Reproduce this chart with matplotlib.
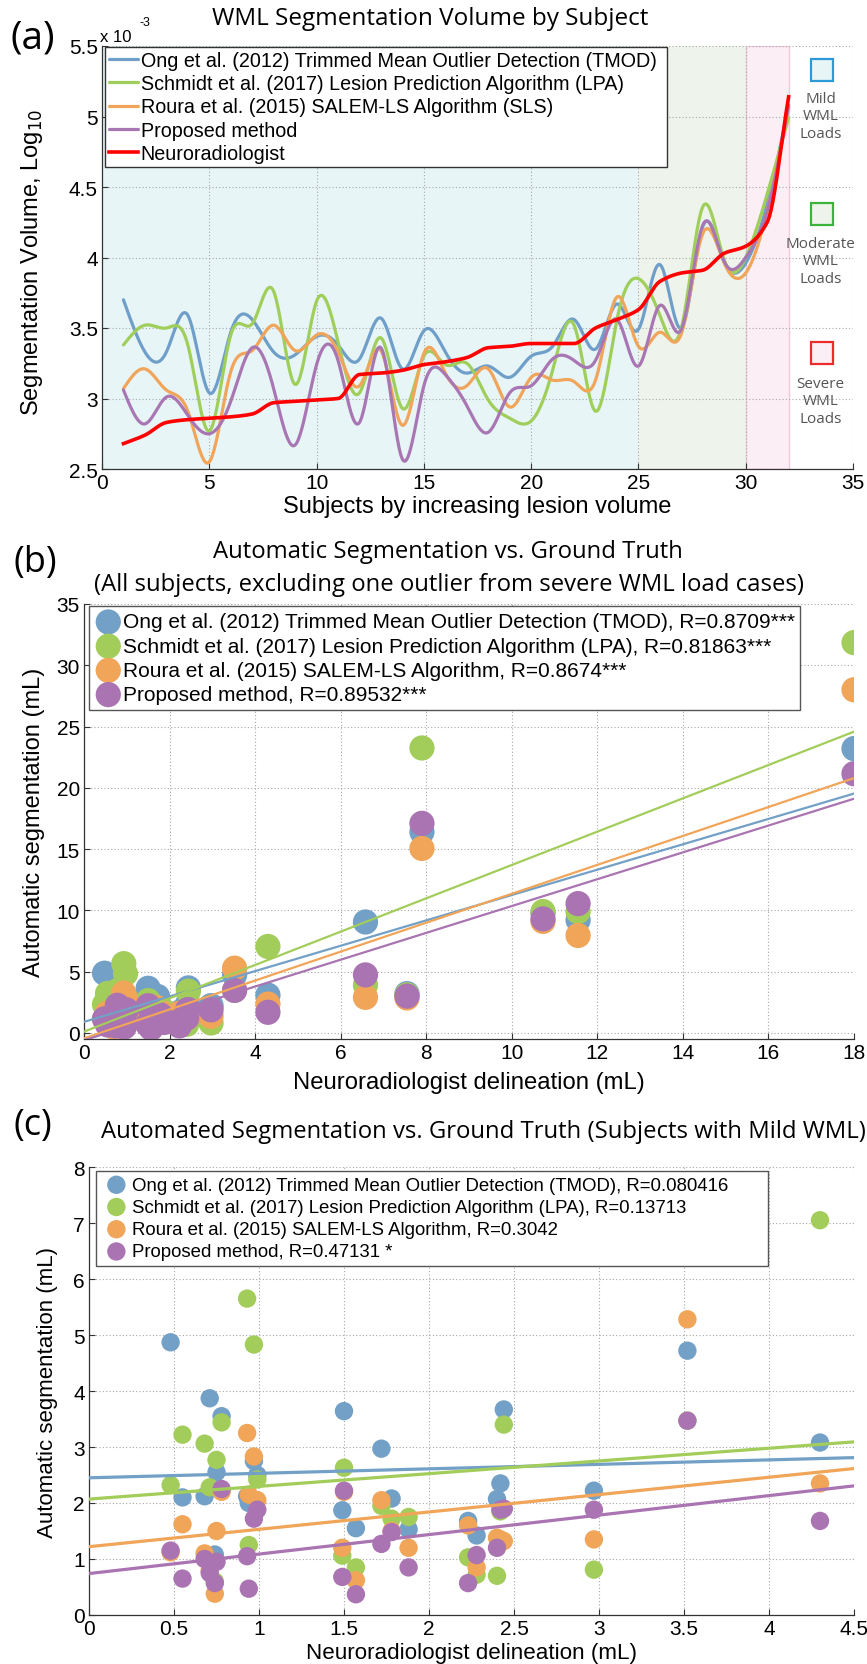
import numpy as np
import matplotlib
matplotlib.use("Agg")
import matplotlib.pyplot as plt
import matplotlib.font_manager as fm
from matplotlib.patches import Rectangle
from matplotlib.ticker import FuncFormatter, MultipleLocator

# ---------------- data ----------------
subjects = list(range(1, 33))
vol_tmod = [3.70, 3.33, 3.33, 3.59, 3.04, 3.47, 3.56, 3.33, 3.31, 3.44, 3.38, 3.28, 3.57, 3.21, 3.48, 3.33,
            3.18, 3.23, 3.15, 3.30, 3.37, 3.56, 3.35, 3.67, 3.49, 3.95, 3.50, 4.22, 3.97, 3.96, 4.38, 5.08]
vol_lpa = [3.38, 3.52, 3.50, 3.38, 2.77, 3.45, 3.53, 3.76, 3.10, 3.69, 3.40, 3.04, 3.43, 2.93, 3.30, 3.24,
           3.25, 2.99, 2.86, 2.84, 3.20, 3.52, 2.91, 3.56, 3.85, 3.59, 3.50, 4.36, 3.98, 4.00, 4.45, 4.99]
vol_sls = [3.07, 3.21, 3.06, 2.91, 2.55, 3.19, 3.34, 3.52, 3.34, 3.45, 3.33, 3.09, 3.34, 2.81, 3.32, 3.18,
           3.09, 3.21, 2.94, 3.15, 3.13, 3.12, 3.13, 3.72, 3.37, 3.47, 3.46, 4.17, 3.96, 3.89, 4.33, 5.06]
vol_prop = [3.06, 2.82, 3.01, 2.88, 2.75, 2.98, 3.36, 3.07, 2.67, 3.24, 3.27, 2.83, 3.36, 2.57, 3.09, 3.17,
            2.95, 2.76, 3.04, 3.09, 3.28, 3.27, 3.27, 3.56, 3.23, 3.66, 3.49, 4.23, 3.97, 4.00, 4.33, 5.08]
vol_neuro = [2.68, 2.74, 2.83, 2.85, 2.86, 2.87, 2.89, 2.97, 2.98, 2.99, 3.00, 3.17, 3.18, 3.20, 3.24, 3.26,
             3.29, 3.36, 3.37, 3.39, 3.39, 3.39, 3.50, 3.56, 3.63, 3.83, 3.89, 3.91, 4.03, 4.08, 4.25, 5.14]
series_a_labels = ["Ong et al. (2012) Trimmed Mean Outlier Detection (TMOD)",
                   "Schmidt et al. (2017) Lesion Prediction Algorithm (LPA)",
                   "Roura et al. (2015) SALEM-LS Algorithm (SLS)",
                   "Proposed method",
                   "Neuroradiologist"]

# mild subjects (mL)
mild_gt = [0.48, 0.55, 0.68, 0.71, 0.74, 0.75, 0.78, 0.93, 0.94, 0.97, 0.99, 1.49, 1.50, 1.57, 1.72, 1.78,
           1.88, 2.23, 2.28, 2.40, 2.42, 2.44, 2.97, 3.52, 4.30]
mild_tmod = [4.87, 2.10, 2.12, 3.87, 1.08, 2.55, 3.55, 2.12, 2.00, 2.75, 2.50, 1.87, 3.64, 1.55, 2.97, 2.08,
             1.53, 1.68, 1.42, 2.07, 2.35, 3.67, 2.22, 4.72, 3.08]
mild_lpa = [2.32, 3.22, 3.06, 2.28, 0.60, 2.77, 3.44, 5.65, 1.25, 4.83, 2.42, 1.06, 2.63, 0.85, 1.95, 1.72,
            1.75, 1.03, 0.72, 0.70, 1.85, 3.40, 0.81, 3.47, 7.05]
mild_sls = [1.12, 1.62, 1.10, 0.80, 0.38, 1.50, 2.20, 3.25, 2.15, 2.83, 2.05, 1.20, 2.20, 0.62, 2.05, 1.50,
            1.20, 1.60, 0.85, 1.38, 1.35, 1.32, 1.35, 5.28, 2.35]
mild_prop = [1.15, 0.65, 1.00, 0.75, 0.57, 0.95, 2.25, 1.05, 0.47, 1.72, 1.88, 0.68, 2.22, 0.37, 1.27, 1.48,
             0.85, 0.57, 1.07, 1.20, 1.88, 1.90, 1.88, 3.47, 1.68]

# remaining (moderate / severe) subjects shown in panel (b)
other_gt = [6.58, 7.55, 7.90, 10.73, 11.55, 18.0]
other_tmod = [9.05, 3.20, 16.4, 9.80, 9.20, 23.2]
other_lpa = [3.90, 3.10, 23.25, 9.90, 9.90, 31.85]
other_sls = [2.90, 2.85, 15.05, 9.10, 7.95, 28.0]
other_prop = [4.73, 3.00, 17.1, 9.30, 10.55, 21.15]

# regression lines (intercept, slope)
fit_b_intercept = [0.90, 0.10, -0.45, -0.60]
fit_b_slope = [1.035, 1.360, 1.180, 1.095]
fit_c_intercept = [2.45, 2.07, 1.22, 0.74]
fit_c_slope = [0.080, 0.227, 0.310, 0.348]

labels_b = ["Ong et al. (2012) Trimmed Mean Outlier Detection (TMOD), R=0.8709***",
            "Schmidt et al. (2017) Lesion Prediction Algorithm (LPA), R=0.81863***",
            "Roura et al. (2015) SALEM-LS Algorithm, R=0.8674***",
            "Proposed method, R=0.89532***"]
labels_c = ["Ong et al. (2012) Trimmed Mean Outlier Detection (TMOD), R=0.080416",
            "Schmidt et al. (2017) Lesion Prediction Algorithm (LPA), R=0.13713",
            "Roura et al. (2015) SALEM-LS Algorithm, R=0.3042",
            "Proposed method, R=0.47131 *"]

# ---------------- styling ----------------
avail = {f.name for f in fm.fontManager.ttflist}
NARROW = 'Liberation Sans Narrow' if 'Liberation Sans Narrow' in avail else 'Liberation Sans'
REG = 'Liberation Sans' if 'Liberation Sans' in avail else 'DejaVu Sans'
TITLE = 'Open Sans' if 'Open Sans' in avail else 'DejaVu Sans'
plt.rcParams['font.family'] = [NARROW, 'DejaVu Sans']

C_LINE = ['#6f9fc9', '#9fcf5a', '#f1a55a', '#a877b3', '#ff0000']
C_DOT = ['#72a0c6', '#a3cd5a', '#f0a558', '#aa74b2']

W, H = 867, 1665
fig = plt.figure(figsize=(W / 100, H / 100), dpi=100)


def ax_rect(left, top, right, bottom):
    return [left / W, 1 - bottom / H, (right - left) / W, (bottom - top) / H]


def style_axes(ax, tsize):
    ax.set_axisbelow(True)
    ax.grid(True, linestyle=(0, (1, 2)), color='#a8a8a8', linewidth=0.8)
    for s in ['top', 'right']:
        ax.spines[s].set_visible(False)
    for s in ['left', 'bottom']:
        ax.spines[s].set_color('#333333')
        ax.spines[s].set_linewidth(0.9)
    ax.tick_params(direction='in', length=4, width=0.8, color='#333333', labelsize=tsize, pad=3)
    ax.xaxis.set_major_formatter(FuncFormatter(lambda v, p: '%g' % v))
    ax.yaxis.set_major_formatter(FuncFormatter(lambda v, p: '%g' % v))


def natural_spline(x, y, xs):
    x = np.asarray(x, float); y = np.asarray(y, float)
    n = len(x); h = np.diff(x)
    A = np.zeros((n, n)); b = np.zeros(n)
    A[0, 0] = 1; A[-1, -1] = 1
    for i in range(1, n - 1):
        A[i, i - 1] = h[i - 1]; A[i, i] = 2 * (h[i - 1] + h[i]); A[i, i + 1] = h[i]
        b[i] = 3 * ((y[i + 1] - y[i]) / h[i] - (y[i] - y[i - 1]) / h[i - 1])
    c = np.linalg.solve(A, b)
    bb = (y[1:] - y[:-1]) / h - h * (2 * c[:-1] + c[1:]) / 3
    d = (c[1:] - c[:-1]) / (3 * h)
    idx = np.clip(np.searchsorted(x, xs) - 1, 0, n - 2)
    t = xs - x[idx]
    return y[idx] + bb[idx] * t + c[idx] * t ** 2 + d[idx] * t ** 3


def pchip(x, y, xs):
    x = np.asarray(x, float); y = np.asarray(y, float)
    h = np.diff(x); delta = np.diff(y) / h
    n = len(x); m = np.zeros(n)
    for k in range(1, n - 1):
        if delta[k - 1] * delta[k] > 0:
            w1 = 2 * h[k] + h[k - 1]; w2 = h[k] + 2 * h[k - 1]
            m[k] = (w1 + w2) / (w1 / delta[k - 1] + w2 / delta[k])
    m[0] = delta[0]; m[-1] = delta[-1]
    idx = np.clip(np.searchsorted(x, xs) - 1, 0, n - 2)
    t = (xs - x[idx]) / h[idx]
    h00 = 2 * t ** 3 - 3 * t ** 2 + 1; h10 = t ** 3 - 2 * t ** 2 + t
    h01 = -2 * t ** 3 + 3 * t ** 2; h11 = t ** 3 - t ** 2
    return h00 * y[idx] + h10 * h[idx] * m[idx] + h01 * y[idx + 1] + h11 * h[idx] * m[idx + 1]


# ---------------- panel (a) ----------------
axA = fig.add_axes(ax_rect(102, 47, 853, 470))
axA.set_xlim(0, 35)
axA.set_ylim(2.5, 5.5)
axA.xaxis.set_major_locator(MultipleLocator(5))
axA.yaxis.set_major_locator(MultipleLocator(0.5))
style_axes(axA, 15)
axA.axvspan(0, 25, color='#e7f5f7', zorder=0, lw=0)
axA.axvspan(25, 30, color='#eef4eb', zorder=0, lw=0)
axA.axvspan(30, 32, facecolor='#fbeef5', edgecolor='#f2c9dc', zorder=0, lw=1)

xs = np.linspace(subjects[0], subjects[-1], 800)
handles = []
for vals, col in zip([vol_tmod, vol_lpa, vol_sls, vol_prop], C_LINE[:4]):
    ln, = axA.plot(xs, natural_spline(subjects, vals, xs), color=col, lw=2.3, solid_capstyle='round')
    handles.append(ln)
ln, = axA.plot(xs, pchip(subjects, vol_neuro, xs), color=C_LINE[4], lw=2.6)
handles.append(ln)
legA = axA.legend(handles, series_a_labels, loc='upper left',
                  bbox_to_anchor=(0.004, 0.998 - 0.3, 0.748, 0.3), mode='expand',
                  borderaxespad=0, fontsize=14.2, handlelength=1.45, handletextpad=0.15,
                  labelspacing=0.22, borderpad=0.2, fancybox=False, framealpha=1,
                  edgecolor='#333333')
legA.get_frame().set_linewidth(1.0)

axA.set_xlabel('Subjects by increasing lesion volume', fontsize=17, labelpad=2)
axA.set_ylabel('Segmentation Volume, Log$_{10}$', fontsize=17, family=REG)
axA.yaxis.set_label_coords(-0.076, 0.49)

# load-category keys
for yc, ty, ec, fc, txt in [(0.943, 0.835, '#2b9ad6', '#e7f5f7', 'Mild\nWML\nLoads'),
                            (0.603, 0.492, '#3cb43c', '#eef4eb', 'Moderate\nWML\nLoads'),
                            (0.274, 0.161, '#ee2b2b', '#fbeef5', 'Severe\nWML\nLoads')]:
    axA.add_patch(Rectangle((0.9587 - 0.0146, yc - 0.026), 0.0293, 0.052, transform=axA.transAxes,
                            facecolor=fc, edgecolor=ec, lw=1.6, clip_on=False, zorder=5))
    axA.text(0.957, ty, txt, transform=axA.transAxes, ha='center', va='center', fontsize=11,
             color='#555555', family=TITLE, linespacing=1.25, zorder=5)

fig.text(10 / W, 1 - 38 / H, '(a)', fontsize=28, family=TITLE, va='center', ha='left')
fig.text(430 / W, 1 - 19 / H, 'WML Segmentation Volume by Subject', fontsize=17.5, family=TITLE,
         ha='center', va='center')
fig.text(100 / W, 1 - 37 / H, 'x 10', fontsize=12, va='center', ha='left')
fig.text(139 / W, 1 - 23 / H, '-3', fontsize=9, va='center', ha='left')

# ---------------- panel (b) ----------------
axB = fig.add_axes(ax_rect(84, 605, 854, 1040))
axB.set_xlim(0, 18)
axB.set_ylim(-0.5, 35)
axB.xaxis.set_major_locator(MultipleLocator(2))
axB.yaxis.set_major_locator(MultipleLocator(5))
style_axes(axB, 15)
gt_b = np.array(mild_gt + other_gt)
sets_b = [mild_tmod + other_tmod, mild_lpa + other_lpa, mild_sls + other_sls, mild_prop + other_prop]
xl = np.array([0, 18])
for i in range(4):
    axB.scatter(gt_b, sets_b[i], s=330, color=C_DOT[i], edgecolors='none', label=labels_b[i], zorder=3)
for i in range(4):
    axB.plot(xl, fit_b_intercept[i] + fit_b_slope[i] * xl, color=C_DOT[i], lw=1.6, zorder=4)
legB = axB.legend(loc='upper left', bbox_to_anchor=(0.0065, 0.995 - 0.3, 0.923, 0.3), mode='expand',
                  borderaxespad=0, fontsize=15,
                  handlelength=1.25, handletextpad=0.1, labelspacing=0.25, borderpad=0.3,
                  fancybox=False, framealpha=1, edgecolor='#555555', scatterpoints=1)
legB.get_frame().set_linewidth(1.0)
axB.set_xlabel('Neuroradiologist delineation (mL)', fontsize=17.2, labelpad=6)
axB.set_ylabel('Automatic segmentation (mL)', fontsize=17, family=REG)
axB.yaxis.set_label_coords(-0.0506, 0.5)
fig.text(14 / W, 1 - 563 / H, '(b)', fontsize=26, family=TITLE, va='center', ha='left')
fig.text(448 / W, 1 - 552 / H, 'Automatic Segmentation vs. Ground Truth', fontsize=17.2, family=TITLE,
         ha='center', va='center')
fig.text(449 / W, 1 - 585 / H, '(All subjects, excluding one outlier from severe WML load cases)',
         fontsize=17.2, family=TITLE, ha='center', va='center')

# ---------------- panel (c) ----------------
axC = fig.add_axes(ax_rect(89, 1168, 854, 1616))
axC.set_xlim(0, 4.5)
axC.set_ylim(0, 8)
axC.xaxis.set_major_locator(MultipleLocator(0.5))
axC.yaxis.set_major_locator(MultipleLocator(1))
style_axes(axC, 15)
sets_c = [mild_tmod, mild_lpa, mild_sls, mild_prop]
xl = np.array([0, 4.5])
for i in range(4):
    axC.scatter(mild_gt, sets_c[i], s=175, color=C_DOT[i], edgecolors='none', label=labels_c[i], zorder=3)
for i in range(4):
    axC.plot(xl, fit_c_intercept[i] + fit_c_slope[i] * xl, color=C_DOT[i], lw=2.3, zorder=4)
legC = axC.legend(loc='upper left', bbox_to_anchor=(0.009, 0.991 - 0.3, 0.878, 0.3), mode='expand',
                  borderaxespad=0, fontsize=13.4,
                  handlelength=1.6, handletextpad=0.05, labelspacing=0.28, borderpad=0.3,
                  fancybox=False, framealpha=1, edgecolor='#555555', scatterpoints=1)
legC.get_frame().set_linewidth(1.0)
axC.set_xlabel('Neuroradiologist delineation (mL)', fontsize=16.1, labelpad=3)
axC.set_ylabel('Automatic segmentation (mL)', fontsize=16, family=REG)
axC.yaxis.set_label_coords(-0.0405, 0.5)
fig.text(14 / W, 1 - 1126 / H, '(c)', fontsize=26, family=TITLE, va='center', ha='left')
fig.text(483 / W, 1 - 1132 / H, 'Automated Segmentation vs. Ground Truth (Subjects with Mild WML)',
         fontsize=17.2, family=TITLE, ha='center', va='center')

fig.savefig('out.png', dpi=100)
